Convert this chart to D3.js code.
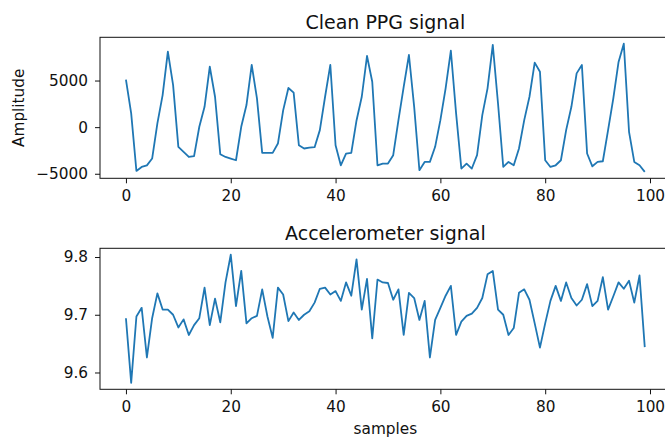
<!DOCTYPE html>
<html>
<head>
<meta charset="utf-8">
<script src="https://cdn.jsdelivr.net/npm/d3@7"></script>
<style>
  body { margin: 0; background: #fff; }
  text { font-family: "DejaVu Sans", sans-serif; fill: #111; }
</style>
</head>
<body>
<svg id="chart" width="665" height="439"></svg>
<script>
// samples 0..99
var ppg = [5100, 1470, -4700, -4270, -4100, -3370, 400, 3440, 8100, 4500,
    -2110, -2650, -3200, -3100, 40, 2180, 6480, 3260, -2900, -3200,
    -3370, -3550, 40, 2370, 6670, 3080, -2760, -2760, -2760, -1760,
    1800, 4200, 3700, -1940, -2290, -2200, -2150, -320, 3260, 6670,
    -1940, -4090, -2830, -2760, 720, 3260, 7630, 4870, -4090, -3910,
    -3910, -3010, 750, 4330, 7740, 2180, -4620, -3730, -3730, -2110,
    750, 4160, 8200, 1470, -4440, -3910, -4440, -3010, 1290, 4160,
    8820, 2540, -4270, -3730, -4090, -2290, 750, 3260, 6920, 5950,
    -3550, -4270, -4090, -3550, -320, 2180, 5770, 6670, -2830, -4200,
    -3730, -3660, -320, 3080, 6990, 8950, -500, -3730, -4090, -4800];

var accel = [9.694, 9.582, 9.697, 9.712, 9.626, 9.694, 9.737, 9.709, 9.709, 9.700,
    9.678, 9.692, 9.665, 9.682, 9.694, 9.747, 9.682, 9.728, 9.687, 9.756,
    9.804, 9.715, 9.776, 9.685, 9.694, 9.698, 9.744, 9.697, 9.660, 9.747,
    9.735, 9.689, 9.704, 9.691, 9.700, 9.706, 9.721, 9.745, 9.747, 9.735,
    9.741, 9.724, 9.756, 9.733, 9.796, 9.709, 9.762, 9.659, 9.761, 9.756,
    9.755, 9.726, 9.744, 9.665, 9.738, 9.729, 9.691, 9.724, 9.626, 9.691,
    9.712, 9.733, 9.750, 9.665, 9.688, 9.698, 9.702, 9.712, 9.729, 9.770,
    9.776, 9.709, 9.700, 9.665, 9.677, 9.738, 9.744, 9.726, 9.685, 9.643,
    9.685, 9.724, 9.750, 9.724, 9.756, 9.729, 9.716, 9.726, 9.753, 9.715,
    9.724, 9.765, 9.709, 9.732, 9.756, 9.745, 9.759, 9.721, 9.768, 9.644];

var xTicks = [0, 20, 40, 60, 80, 100];
var ppgTicks = [-5000, 0, 5000];
var accelTicks = [9.6, 9.7, 9.8];

var svg = d3.select('#chart');
var left = 100, right = 670.7;

// matplotlib style 5% margins
function padded(ext) {
    var r = ext[1] - ext[0];
    return [ext[0] - r * 0.05, ext[1] + r * 0.05];
}

var xScale = d3.scaleLinear().domain(padded([0, ppg.length - 1])).range([left, right]);

function drawPanel(values, ticks, fmt, top, bottom, title) {
    var yScale = d3.scaleLinear().domain(padded(d3.extent(values))).range([bottom, top]);
    var g = svg.append('g');

    g.append('path')
        .datum(values)
        .attr('fill', 'none')
        .attr('stroke', '#1f77b4')
        .attr('stroke-width', 1.8)
        .attr('stroke-linejoin', 'round')
        .attr('d', d3.line().x(function(d, i) { return xScale(i); }).y(function(d) { return yScale(d); }));

    g.append('rect')
        .attr('x', left).attr('y', top)
        .attr('width', right - left).attr('height', bottom - top)
        .attr('fill', 'none').attr('stroke', '#111').attr('stroke-width', 1);

    var xAxis = d3.axisBottom(xScale).tickValues(xTicks).tickSize(5).tickPadding(7).tickFormat(d3.format('d'));
    var yAxis = d3.axisLeft(yScale).tickValues(ticks).tickSize(5).tickPadding(7).tickFormat(fmt);

    var xg = g.append('g').attr('transform', 'translate(0,' + bottom + ')').call(xAxis);
    var yg = g.append('g').attr('transform', 'translate(' + left + ',0)').call(yAxis);
    [xg, yg].forEach(function(a) {
        a.select('.domain').remove();
        a.selectAll('line').attr('stroke', '#111');
        a.selectAll('text').style('font-size', '15.3px');
    });

    g.append('text')
        .attr('x', (left + right) / 2).attr('y', top - 8.5)
        .attr('text-anchor', 'middle')
        .style('font-size', '19px')
        .text(title);
    return g;
}

var minusFmt = function(d) { return d < 0 ? '\u2212' + Math.abs(d) : String(d); };
drawPanel(ppg, ppgTicks, minusFmt, 37.3, 178.3, 'Clean PPG signal');
drawPanel(accel, accelTicks, d3.format('.1f'), 248.3, 389.3, 'Accelerometer signal');

svg.append('text')
    .attr('transform', 'translate(24,' + (37.3 + 178.3) / 2 + ') rotate(-90)')
    .attr('text-anchor', 'middle')
    .style('font-size', '15.3px')
    .text('Amplitude');

svg.append('text')
    .attr('x', (left + right) / 2).attr('y', 434)
    .attr('text-anchor', 'middle')
    .style('font-size', '15.3px')
    .text('samples');
</script>
</body>
</html>
